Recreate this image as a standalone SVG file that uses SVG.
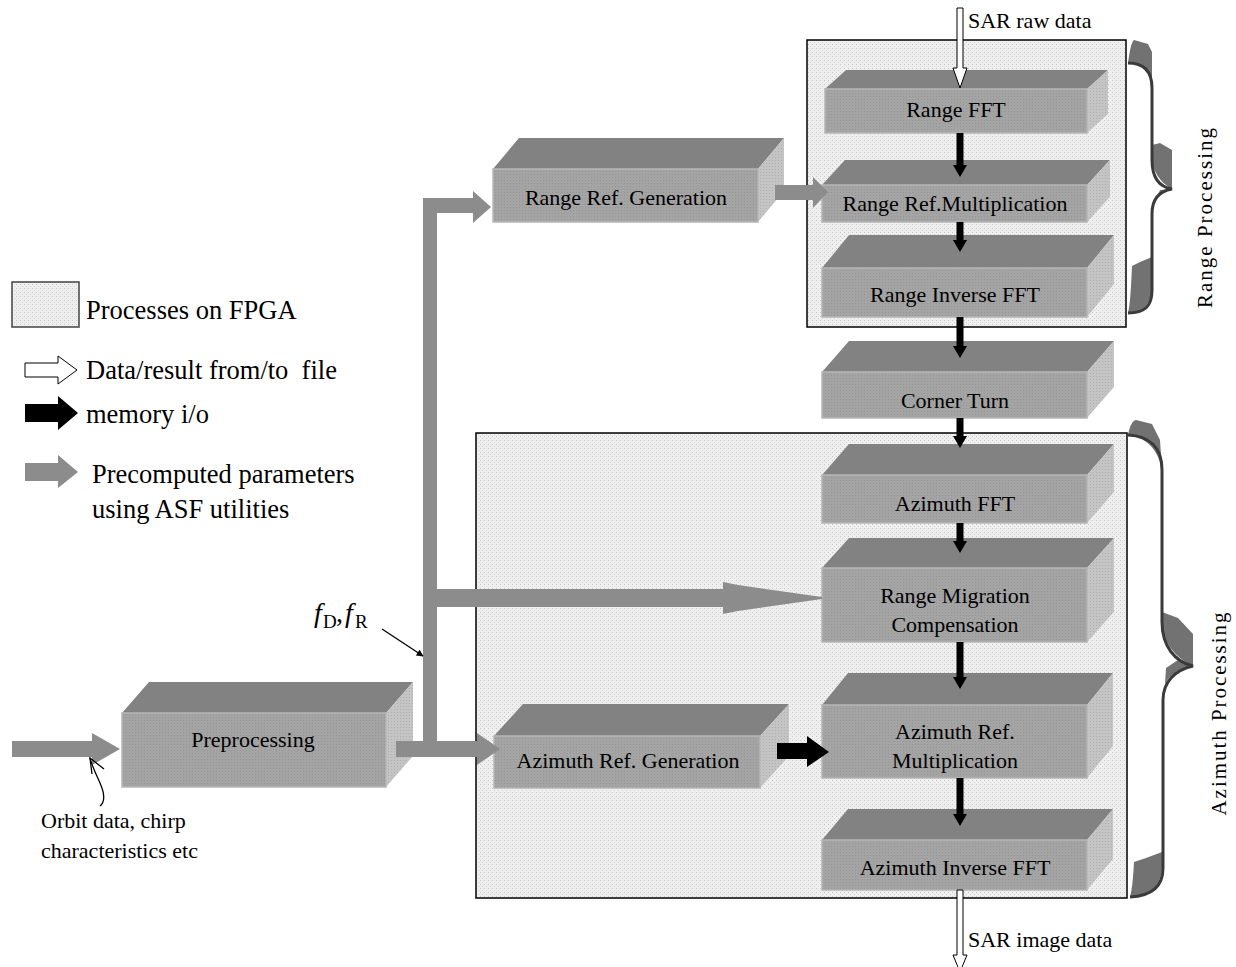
<svg xmlns="http://www.w3.org/2000/svg" width="1236" height="967" viewBox="0 0 1236 967">
<defs>
<pattern id="dots" width="4" height="4" patternUnits="userSpaceOnUse">
<rect width="4" height="4" fill="#efefef"/>
<rect x="0" y="0" width="1" height="1" fill="#c6c6c6"/>
<rect x="2" y="2" width="1" height="1" fill="#d4d4d4"/>
</pattern>
<pattern id="fdots" width="3" height="3" patternUnits="userSpaceOnUse">
<rect width="3" height="3" fill="#a4a4a4"/>
<rect x="0" y="0" width="1" height="1" fill="#969696"/>
</pattern>
<pattern id="sdots" width="3" height="3" patternUnits="userSpaceOnUse">
<rect width="3" height="3" fill="#c4c4c4"/>
<rect x="1" y="1" width="1" height="1" fill="#b0b0b0"/>
</pattern>
<marker id="blk" viewBox="0 0 10 10" refX="9" refY="5" markerWidth="7" markerHeight="7" orient="auto" markerUnits="userSpaceOnUse">
<path d="M0,0 L10,5 L0,10 Z" fill="#000"/>
</marker>
<style>
.fpga{fill:url(#dots);stroke:#000;stroke-width:1.5}
.top{fill:#828282}
.side{fill:url(#sdots)}
.front{fill:url(#fdots);stroke:#b6b6b6;stroke-width:1.5}
.lbl{font-family:"Liberation Serif","Times New Roman",serif;font-size:22px;fill:#000;text-anchor:middle}
.txt{font-family:"Liberation Serif","Times New Roman",serif;font-size:22px;fill:#000}
.leg{font-family:"Liberation Serif","Times New Roman",serif;font-size:26.5px;fill:#000}
.gray{fill:#8c8c8c}
.blk{fill:#000}
.wht{fill:#fff;stroke:#000;stroke-width:1}
.brace{fill:none;stroke:#3a3a3a;stroke-width:3}
.flare{fill:#727272}
</style>
</defs>
<rect width="1236" height="967" fill="#fff"/>

<g id="range-processing-area">
<rect class="fpga" x="807" y="40" width="319" height="287"/>
</g>
<g id="azimuth-processing-area">
<rect class="fpga" x="476" y="433" width="651" height="465"/>
</g>

<g id="legend">
<rect class="fpga" x="12" y="282" width="67" height="45" style="stroke:#444"/>
<text class="leg" x="86" y="319">Processes on FPGA</text>
<polygon class="wht" points="25,363 58,363 58,356 77,370 58,384 58,377 25,377"/>
<text class="leg" x="86" y="379" xml:space="preserve">Data/result from/to  file</text>
<polygon class="blk" points="25,404 58,404 58,396 78,413 58,430 58,422 25,422"/>
<text class="leg" x="86" y="423">memory i/o</text>
<polygon class="gray" points="25,463 58,463 58,455 78,472 58,488 58,481 25,481"/>
<text class="leg" x="92" y="483">Precomputed parameters</text>
<text class="leg" x="92" y="518">using ASF utilities</text>
</g>

<g id="range-fft">
<polygon class="top" points="825,89 846,70 1108,70 1087,89"/>
<polygon class="side" points="1087,89 1108,70 1108,114 1087,133"/>
<rect class="front" x="825" y="89" width="262" height="44"/>
<text class="lbl" x="956" y="117">Range FFT</text>
</g>
<g id="range-ref-multiplication">
<polygon class="top" points="822,185 845,160 1110,160 1087,185"/>
<polygon class="side" points="1087,185 1110,160 1110,197 1087,222"/>
<rect class="front" x="822" y="185" width="265" height="37"/>
<text class="lbl" x="955" y="211">Range Ref.Multiplication</text>
</g>
<g id="range-inverse-fft">
<polygon class="top" points="822,268 849,235 1114,235 1087,268"/>
<polygon class="side" points="1087,268 1114,235 1114,284 1087,317"/>
<rect class="front" x="822" y="268" width="265" height="49"/>
<text class="lbl" x="955" y="302">Range Inverse FFT</text>
</g>
<g id="corner-turn">
<polygon class="top" points="822,372 849,341 1114,341 1087,372"/>
<polygon class="side" points="1087,372 1114,341 1114,387 1087,418"/>
<rect class="front" x="822" y="372" width="265" height="46"/>
<text class="lbl" x="955" y="408">Corner Turn</text>
</g>
<g id="azimuth-fft">
<polygon class="top" points="822,475 849,444 1114,444 1087,475"/>
<polygon class="side" points="1087,475 1114,444 1114,492 1087,523"/>
<rect class="front" x="822" y="475" width="265" height="48"/>
<text class="lbl" x="955" y="511">Azimuth FFT</text>
</g>
<g id="range-migration-compensation">
<polygon class="top" points="822,568 849,538 1114,538 1087,568"/>
<polygon class="side" points="1087,568 1114,538 1114,612 1087,642"/>
<rect class="front" x="822" y="568" width="265" height="74"/>
<text class="lbl" x="955" y="603">Range Migration</text>
<text class="lbl" x="955" y="632">Compensation</text>
</g>
<g id="azimuth-ref-multiplication">
<polygon class="top" points="822,705 848,673 1113,673 1087,705"/>
<polygon class="side" points="1087,705 1113,673 1113,746 1087,778"/>
<rect class="front" x="822" y="705" width="265" height="73"/>
<text class="lbl" x="955" y="739">Azimuth Ref.</text>
<text class="lbl" x="955" y="768">Multiplication</text>
</g>
<g id="azimuth-inverse-fft">
<polygon class="top" points="822,840 848,809 1113,809 1087,840"/>
<polygon class="side" points="1087,840 1113,809 1113,859 1087,890"/>
<rect class="front" x="822" y="840" width="265" height="50"/>
<text class="lbl" x="955" y="875">Azimuth Inverse FFT</text>
</g>
<g id="azimuth-ref-generation">
<polygon class="top" points="494,736 523,704 789,704 760,736"/>
<polygon class="side" points="760,736 789,704 789,756 760,788"/>
<rect class="front" x="494" y="736" width="266" height="52"/>
<text class="lbl" x="628" y="768">Azimuth Ref. Generation</text>
</g>
<g id="range-ref-generation">
<polygon class="top" points="493,169 519,138 784,138 758,169"/>
<polygon class="side" points="758,169 784,138 784,191 758,222"/>
<rect class="front" x="493" y="169" width="265" height="53"/>
<text class="lbl" x="626" y="205">Range Ref. Generation</text>
</g>
<g id="preprocessing">
<polygon class="top" points="122,713 149,682 413,682 386,713"/>
<polygon class="side" points="386,713 413,682 413,756 386,787"/>
<rect class="front" x="122" y="713" width="264" height="74"/>
<text class="lbl" x="253" y="747">Preprocessing</text>
</g>

<g id="connectors">
<polygon class="gray" points="12,741 92,741 92,733 120,749 92,765 92,757 12,757"/>
<polygon class="gray" points="396,741 477,741 477,733 500,749 477,765 477,757 396,757"/>
<rect class="gray" x="423" y="198" width="14" height="559"/>
<polygon class="gray" points="423,198 473,198 473,191 491,207 473,223 473,213 423,213"/>
<polygon class="gray" points="437,589 723,589 723,582 738,585 822,597 822,599 738,611 723,614 723,607 437,607"/>
<polygon class="gray" points="775,185 813,185 813,177 828,192 813,208 813,200 775,200"/>
<polygon class="blk" points="956.5,133 963.5,133 963.5,165 967,165 960,177 953,165 956.5,165"/>
<polygon class="blk" points="956.5,222 963.5,222 963.5,240 967,240 960,252 953,240 956.5,240"/>
<polygon class="blk" points="956.5,317 963.5,317 963.5,346 967,346 960,358 953,346 956.5,346"/>
<polygon class="blk" points="956.5,418 963.5,418 963.5,436 967,436 960,448 953,436 956.5,436"/>
<polygon class="blk" points="956.5,523 963.5,523 963.5,541 967,541 960,553 953,541 956.5,541"/>
<polygon class="blk" points="956.5,642 963.5,642 963.5,677 967,677 960,689 953,677 956.5,677"/>
<polygon class="blk" points="956.5,778 963.5,778 963.5,814 967,814 960,826 953,814 956.5,814"/>
<polygon class="blk" points="777,743 807,743 807,736 829,752 807,767 807,759 777,759"/>
<polygon class="wht" points="957,8 963,8 963,68 967,68 960,88 953,68 957,68"/>
<polygon class="wht" points="957,890 963,890 963,955 967,955 960,972 953,955 957,955"/>
<line x1="382" y1="629" x2="423" y2="656" stroke="#000" stroke-width="1.3" marker-end="url(#blk)"/>
<path d="M100,806 C106,801 104,792 100,783 C96,774 92,766 90,758" fill="none" stroke="#000" stroke-width="1.3"/>
<path d="M92,774 L90,758 L104,769" fill="none" stroke="#000" stroke-width="1.3"/>
</g>

<g id="labels">
<text class="txt" x="968" y="28">SAR raw data</text>
<text class="txt" x="968" y="947">SAR image data</text>
<text class="txt" x="41" y="828">Orbit data, chirp</text>
<text class="txt" x="41" y="858">characteristics etc</text>
<text class="txt" style="font-size:28px"><tspan x="314" y="622" font-style="italic">f</tspan><tspan x="323" y="628" font-size="19">D</tspan><tspan x="336" y="622">,</tspan><tspan x="345" y="622" font-style="italic">f</tspan><tspan x="355" y="628" font-size="19">R</tspan></text>
</g>

<g id="range-processing-brace">
<path class="flare" d="M1128,63 C1130,50 1131,43 1134,40 L1148,44 L1152,52 L1152,84 C1150,70 1142,63 1128,63 Z"/>
<path class="flare" d="M1152,145 L1160,143 L1172,150 L1172,189 C1164,185 1155,176 1152,162 Z"/>
<path class="flare" d="M1172,189 C1163,192 1157,196 1154,204 L1160,190 Z"/>
<path class="flare" d="M1128,313 C1142,313 1150,306 1152,290 L1152,257 L1140,262 L1132,266 C1131,290 1130,305 1128,313 Z"/>
<path class="brace" d="M1128,63 C1145,63 1152,72 1152,88 L1152,160 C1152,178 1160,187 1172,189 C1160,191 1152,198 1152,214 L1152,290 C1152,306 1145,313 1128,313"/>
<text class="txt" transform="translate(1212,218) rotate(-90)" text-anchor="middle" textLength="180" lengthAdjust="spacing" style="font-size:21px">Range  Processing</text>
</g>
<g id="azimuth-processing-brace">
<path class="flare" d="M1128,435 C1130,426 1132,421 1136,420 L1152,424 L1160,440 L1162,470 C1158,448 1145,437 1128,435 Z"/>
<path class="flare" d="M1162,612 L1178,618 L1193,634 L1193,666 C1180,660 1166,648 1162,628 Z"/>
<path class="flare" d="M1193,666 C1180,668 1170,674 1165,684 L1166,668 L1178,660 Z"/>
<path class="flare" d="M1130,897 C1150,896 1160,888 1162,868 L1162,852 L1146,858 L1134,862 C1133,880 1132,890 1130,897 Z"/>
<path class="brace" d="M1128,435 C1150,436 1162,448 1162,470 L1162,622 C1162,646 1175,662 1193,666 C1175,670 1163,682 1163,700 L1163,868 C1163,888 1150,896 1130,897"/>
<text class="txt" transform="translate(1226,714) rotate(-90)" text-anchor="middle" textLength="203" lengthAdjust="spacing" style="font-size:21px">Azimuth Processing</text>
</g>
</svg>
